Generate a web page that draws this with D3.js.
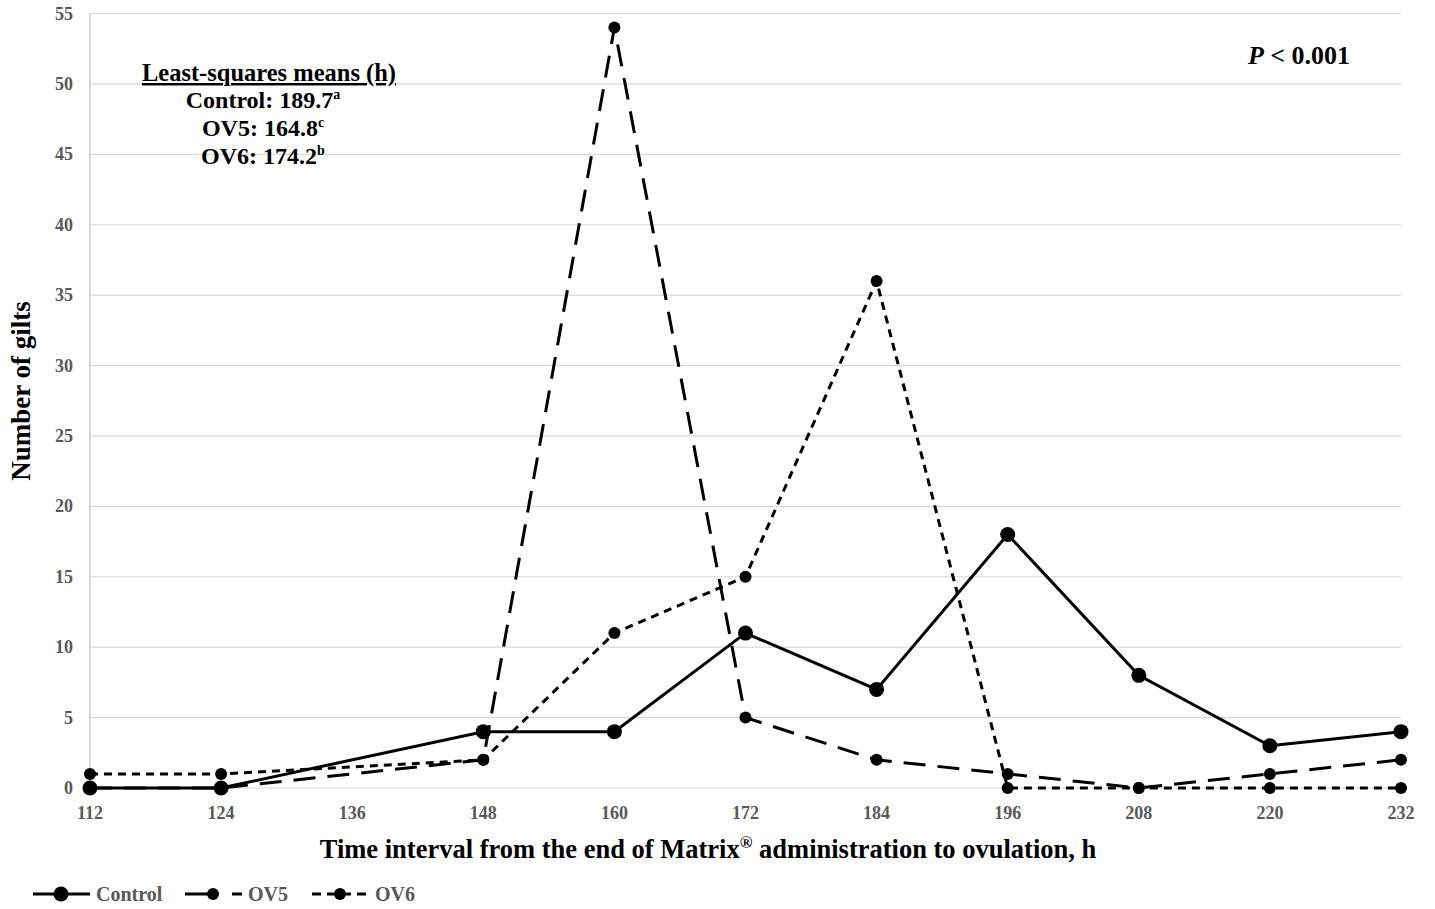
<!DOCTYPE html>
<html>
<head>
<meta charset="utf-8">
<script src="https://cdn.jsdelivr.net/npm/d3@7"></script>
<style>
  body { margin: 0; background: #fff; }
  text { font-family: "Liberation Serif", "Times New Roman", serif; font-weight: bold; }
</style>
</head>
<body>
<div id="chart"></div>
<script>
// time points (h) and gilt counts per treatment
const hours = [112, 124, 148, 160, 172, 184, 196, 208, 220, 232];
const control = [0, 0, 4, 4, 11, 7, 18, 8, 3, 4];
const ov5 = [0, 0, 2, 54, 5, 2, 1, 0, 1, 2];
const ov6 = [1, 1, 2, 11, 15, 36, 0, 0, 0, 0];
const xTicks = [112, 124, 136, 148, 160, 172, 184, 196, 208, 220, 232];
const yTicks = [0, 5, 10, 15, 20, 25, 30, 35, 40, 45, 50, 55];

const W = 1435, H = 909;
const margin = {top: 13.5, right: 34, bottom: 121, left: 90};

const svg = d3.select("#chart").append("svg")
    .attr("width", W)
    .attr("height", H);

const x = d3.scaleLinear().domain([112, 232]).range([margin.left, W - margin.right]);
const y = d3.scaleLinear().domain([0, 55]).range([H - margin.bottom, margin.top]);

// gridlines
svg.append("g")
    .selectAll("line")
    .data(yTicks)
    .enter().append("line")
    .attr("x1", x(112)).attr("x2", x(232))
    .attr("y1", d => y(d)).attr("y2", d => y(d))
    .attr("stroke", "#d9d9d9")
    .attr("stroke-width", 1.2);

// y axis line
svg.append("line")
    .attr("x1", x(112)).attr("x2", x(112))
    .attr("y1", y(0)).attr("y2", y(55))
    .attr("stroke", "#bfbfbf")
    .attr("stroke-width", 1.2);

// y tick labels
svg.append("g")
    .selectAll("text")
    .data(yTicks)
    .enter().append("text")
    .attr("x", 73)
    .attr("y", d => y(d) + 6)
    .attr("text-anchor", "end")
    .attr("font-size", "18px")
    .attr("fill", "#595959")
    .text(d => d);

// x tick labels
svg.append("g")
    .selectAll("text")
    .data(xTicks)
    .enter().append("text")
    .attr("x", d => x(d))
    .attr("y", y(0) + 31)
    .attr("text-anchor", "middle")
    .attr("font-size", "18px")
    .attr("fill", "#595959")
    .text(d => d);

// axis titles
svg.append("text")
    .attr("transform", "translate(30,391) rotate(-90)")
    .attr("text-anchor", "middle")
    .attr("font-size", "27px")
    .attr("fill", "#000")
    .text("Number of gilts");

const xt = svg.append("text")
    .attr("x", 708)
    .attr("y", 858)
    .attr("text-anchor", "middle")
    .attr("font-size", "26.5px")
    .attr("fill", "#000");
xt.append("tspan").text("Time interval from the end of Matrix");
xt.append("tspan").attr("dy", -10).attr("font-size", "17px").text("®");
xt.append("tspan").attr("dy", 10).text(" administration to ovulation, h");

// series
const series = [
    {name: "Control", values: control, dash: null, r: 7.5},
    {name: "OV5", values: ov5, dash: "22,12", r: 6},
    {name: "OV6", values: ov6, dash: "8,6", r: 6}
];

const line = d3.line()
    .x((d, i) => x(hours[i]))
    .y(d => y(d));

series.forEach(s => {
    svg.append("path")
        .datum(s.values)
        .attr("d", line)
        .attr("fill", "none")
        .attr("stroke", "#000")
        .attr("stroke-width", 3)
        .attr("stroke-dasharray", s.dash);

    svg.append("g")
        .selectAll("circle")
        .data(s.values)
        .enter().append("circle")
        .attr("cx", (d, i) => x(hours[i]))
        .attr("cy", d => y(d))
        .attr("r", s.r)
        .attr("fill", "#000");
});

// annotation
const ann = [
    {t: "Control: 189.7", sup: "a", yy: 108},
    {t: "OV5: 164.8", sup: "c", yy: 136},
    {t: "OV6: 174.2", sup: "b", yy: 164}
];
svg.append("text")
    .attr("x", 269).attr("y", 81)
    .attr("text-anchor", "middle")
    .attr("font-size", "24.5px")
    .attr("text-decoration", "underline")
    .text("Least-squares means (h)");
ann.forEach(a => {
    const t = svg.append("text")
        .attr("x", 263).attr("y", a.yy)
        .attr("text-anchor", "middle")
        .attr("font-size", "24px");
    t.append("tspan").text(a.t);
    t.append("tspan").attr("dy", -9).attr("font-size", "14px").text(a.sup);
});

const pt = svg.append("text")
    .attr("x", 1299).attr("y", 64)
    .attr("text-anchor", "middle")
    .attr("font-size", "26px");
pt.append("tspan").attr("font-style", "italic").text("P");
pt.append("tspan").text(" < 0.001");

// legend
const legend = [
    {name: "Control", x0: 33, dash: null, r: 7.5},
    {name: "OV5", x0: 185, dash: "27,20", r: 6},
    {name: "OV6", x0: 312, dash: "9,6", r: 6}
];
legend.forEach(l => {
    const g = svg.append("g");
    g.append("line")
        .attr("x1", l.x0).attr("x2", l.x0 + 57)
        .attr("y1", 894).attr("y2", 894)
        .attr("stroke", "#000")
        .attr("stroke-width", 3)
        .attr("stroke-dasharray", l.dash);
    g.append("circle")
        .attr("cx", l.x0 + 28).attr("cy", 894)
        .attr("r", l.r)
        .attr("fill", "#000");
    g.append("text")
        .attr("x", l.x0 + 63).attr("y", 901)
        .attr("font-size", "20px")
        .attr("fill", "#595959")
        .text(l.name);
});
</script>
</body>
</html>
